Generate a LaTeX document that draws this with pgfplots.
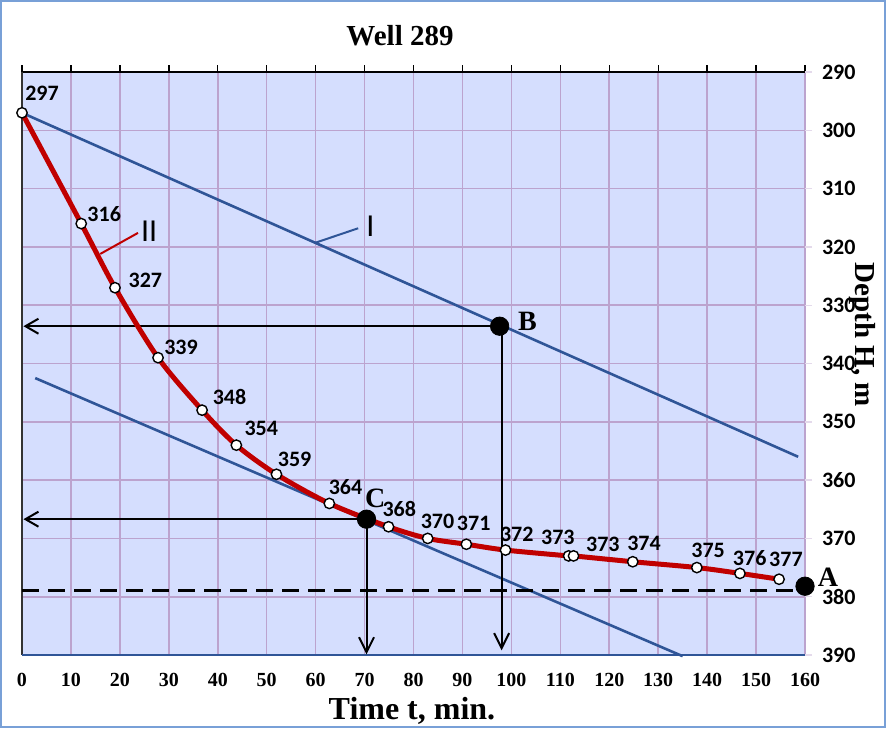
\documentclass[border=0pt]{standalone}
\usepackage{pgfplots}
\pgfplotsset{compat=1.18}
\usepackage{fontspec}
\usetikzlibrary{arrows.meta}
\setmainfont{Liberation Serif}
\newfontfamily\carlito{Carlito}
\definecolor{bgblue}{RGB}{213,222,254}
\definecolor{gridc}{RGB}{188,163,206}
\definecolor{curvered}{RGB}{192,0,0}
\definecolor{lineblue}{RGB}{47,85,151}
\definecolor{framec}{RGB}{120,160,215}
\newcommand{\lbl}{\carlito\bfseries\fontsize{11}{12}\selectfont}
\tikzset{dl/.style={font=\lbl}}
\begin{document}
\begin{tikzpicture}
\draw[framec, line width=1pt] (-10.5pt,-36pt) rectangle (431.5pt,327pt);
\begin{axis}[
  at={(0,0)}, anchor=south west,
  scale only axis, width=391.5pt, height=291.5pt,
  xmin=0, xmax=160, ymin=290, ymax=390, y dir=reverse,
  xtick={0,10,...,160}, ytick={290,300,...,390},
  grid=major, major grid style={gridc, line width=0.8pt},
  axis background/.style={fill=bgblue},
  axis line style={draw=none},
  xtick pos=top, xticklabel pos=bottom,
  ytick pos=right, yticklabel pos=right,
  tick align=outside, major tick length=3.5pt,
  xtick style={black, line width=0.7pt},
  ytick style={gridc!40, line width=0.7pt},
  /pgf/number format/assume math mode=true,
  xticklabel style={font=\bfseries\fontsize{10}{12}\selectfont, yshift=-2pt},
  yticklabel style={font=\lbl, xshift=1.5pt},
  clip=false,
]
\draw[black, line width=0.8pt] (axis cs:0,290) -- (axis cs:160,290);
\draw[black!80, line width=0.6pt] (axis cs:0,290) -- (axis cs:0,390);
\draw[lineblue, line width=1.1pt] (axis cs:0,390) -- (axis cs:160,390);
% tangent lines
\addplot[lineblue, line width=1.3pt] coordinates {(0,297) (158.6,356)};
\addplot[lineblue, line width=1.3pt] coordinates {(2.7,342.5) (135,390.2)};
% dashed level
\addplot[black, line width=1.4pt, dash pattern=on 8.5pt off 4.5pt] coordinates {(0,379) (158,379)};
% arrows
\addplot[black, line width=1pt, -{Straight Barb[length=6.5pt,width=7.5pt]}] coordinates {(98,333.6) (0.3,333.6)};
\addplot[black, line width=1pt, -{Straight Barb[length=7.5pt,width=7.5pt]}] coordinates {(98,333.6) (98,389.2)};
\addplot[black, line width=1pt, -{Straight Barb[length=6.5pt,width=7.5pt]}] coordinates {(70.4,366.7) (0.3,366.7)};
\addplot[black, line width=1pt, -{Straight Barb[length=7.5pt,width=7.5pt]}] coordinates {(70.4,366.7) (70.4,389.9)};
% pointer lines
\addplot[curvered, line width=1pt] coordinates {(16.0,321.2) (23.7,317.6)};
\addplot[lineblue, line width=1pt] coordinates {(59.9,319.3) (68.7,316.8)};
% main curve
\addplot[curvered, line width=2.5pt, smooth, tension=0.5, mark=*, mark size=2.6pt,
  mark options={fill=white, draw=black, line width=0.7pt}] coordinates {
(0,297) (12.1,316) (19.0,327) (27.8,339) (36.8,348) (43.8,354) (52.0,359)
(62.8,364) (74.9,368) (82.9,370) (90.8,371) (98.8,372) (111.7,373) (112.7,373)
(124.8,374) (137.9,375) (146.7,376) (154.7,377)};
% key points
\addplot[only marks, mark=*, mark size=4.6pt, black] coordinates {(97.6,333.6) (70.4,366.7) (160,378.2)};
% labels
\node[dl] at (axis cs:4.09,293.6) {297};
\node[dl] at (axis cs:16.8,314.35) {316};
\node[dl] at (axis cs:25.2,325.7) {327};
\node[dl] at (axis cs:32.5,337.2) {339};
\node[dl] at (axis cs:42.4,345.7) {348};
\node[dl] at (axis cs:48.9,351.2) {354};
\node[dl] at (axis cs:55.7,356.5) {359};
\node[dl] at (axis cs:66.1,361.2) {364};
\node[dl] at (axis cs:77.1,364.96) {368};
\node[dl] at (axis cs:84.9,367.0) {370};
\node[dl] at (axis cs:92.3,367.4) {371};
\node[dl] at (axis cs:101.1,369.25) {372};
\node[dl] at (axis cs:109.5,369.8) {373};
\node[dl] at (axis cs:118.7,371.1) {373};
\node[dl] at (axis cs:127.1,370.8) {374};
\node[dl] at (axis cs:140.2,372.0) {375};
\node[dl] at (axis cs:148.7,373.4) {376};
\node[dl] at (axis cs:156.1,373.55) {377};
\node[font=\carlito\fontsize{16}{18}\selectfont] at (axis cs:26.0,317.3) {II};
\node[font=\carlito\fontsize{16}{18}\selectfont] at (axis cs:71.2,316.4) {I};
\node[font=\bfseries\fontsize{14}{16}\selectfont] at (axis cs:103.3,332.7) {B};
\node[font=\bfseries\fontsize{14}{16}\selectfont] at (axis cs:72.2,363.1) {C};
\node[font=\bfseries\fontsize{14}{16}\selectfont] at (axis cs:164.7,376.7) {A};
\end{axis}
\node[font=\bfseries\fontsize{14.5}{17}\selectfont] at (189pt,309.5pt) {Well 289};
\node[font=\bfseries\fontsize{16}{19}\selectfont] at (195pt,-28pt) {Time t, min.};
\node[rotate=-90, font=\bfseries\fontsize{14.5}{17}\selectfont] at (420pt,160pt) {Depth H, m};
\end{tikzpicture}
\end{document}
